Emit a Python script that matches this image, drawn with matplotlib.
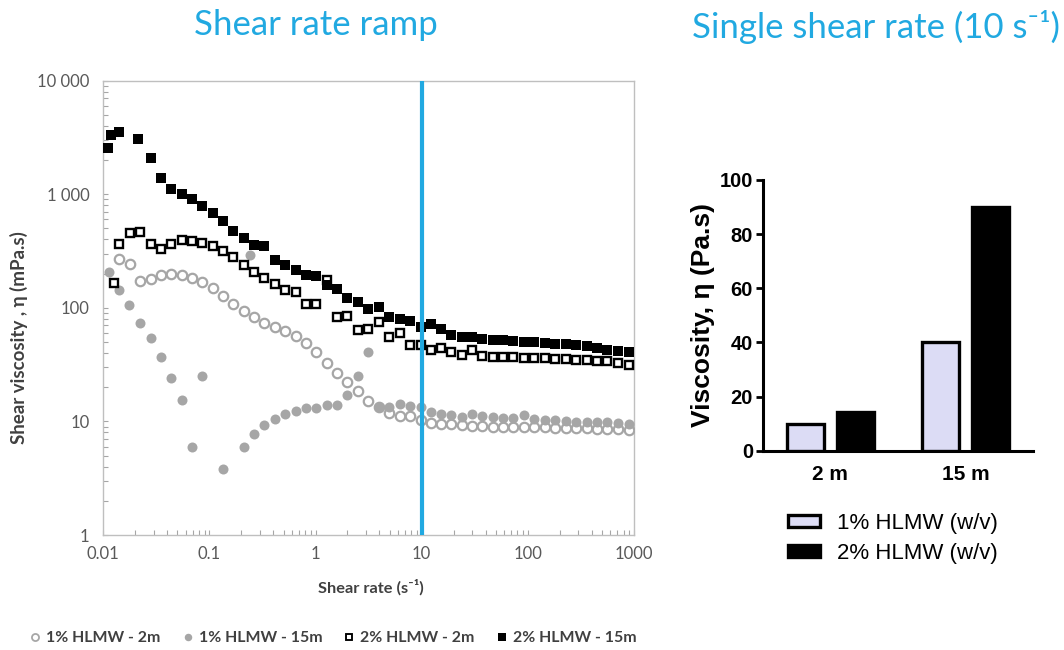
import numpy as np
import matplotlib
matplotlib.use("Agg")
from matplotlib import pyplot as plt
from matplotlib.ticker import FixedLocator, FixedFormatter, LogLocator, NullFormatter
from matplotlib.lines import Line2D
from matplotlib.patches import Patch

# shear rate (s-1) shared by the four series from ~0.03 upward
rate = [0.028, 0.035, 0.0435, 0.055, 0.069, 0.086, 0.107, 0.134, 0.168, 0.212,
        0.263, 0.327, 0.412, 0.521, 0.655, 0.813, 1.02, 1.29, 1.60, 2.00,
        2.50, 3.13, 3.96, 4.97, 6.22, 7.78, 9.77, 12.2, 15.2, 18.9,
        23.9, 29.7, 37.3, 46.8, 58.9, 73.2, 92.2, 115, 146, 182,
        228, 285, 360, 450, 562, 710, 896]

# 1% HLMW - 2m (open circles)
c2_rate0 = [0.0142, 0.0179, 0.0222]
c2_visc0 = [270, 245, 174]
c2_visc = [181, 194, 200, 196, 183, 168, 150, 128, 108, 94.5,
           83.1, 73.6, 67.6, 63.0, 56.1, 48.6, 40.5, 32.7, 26.8, 22.2,
           18.6, 15.1, 13.3, 11.8, 11.2, 11.2, 10.3, 9.66, 9.52, 9.46,
           9.33, 9.20, 9.14, 9.02, 9.02, 9.02, 9.02, 9.02, 8.91, 8.84,
           8.84, 8.73, 8.73, 8.61, 8.61, 8.61, 8.43]

# 1% HLMW - 15m (grey dots), nan = point not shown
c15_rate0 = [0.0114, 0.0142, 0.0176, 0.0222, 0.241]
c15_visc0 = [207, 143, 105, 73.6, 294]
c15_visc = [54.6, 36.9, 24.1, 15.5, 5.93, 25.2, np.nan, 3.80, np.nan, 6.01,
            7.78, 9.28, 10.6, 11.6, 12.4, 13.1, 13.1, 13.9, 13.9, 17.2,
            24.9, 40.5, 13.4, 13.5, 14.3, 13.6, 13.5, 12.2, 11.6, 11.4,
            11.0, 11.7, 11.2, 10.9, 10.8, 10.7, 11.4, 10.5, 10.3, 10.2,
            10.1, 9.98, 9.98, 9.86, 9.86, 9.66, 9.52]

# 2% HLMW - 2m (open squares)
s2_rate0 = [0.0126, 0.0141, 0.0177, 0.0222]
s2_visc0 = [166, 368, 456, 463]
s2_visc = [368, 333, 365, 395, 391, 376, 354, 319, 280, 239,
           206, 183, 162, 145, 139, 108, 108, 177, 83.6, 84.9,
           63.3, 65.2, 74.5, 55.4, 60.1, 46.9, 46.9, 42.8, 44.3, 40.5,
           38.7, 42.2, 37.4, 36.9, 36.9, 36.6, 36.2, 36.2, 35.9, 35.6,
           35.4, 34.9, 34.7, 34.2, 33.8, 32.7, 31.6]

# 2% HLMW - 15m (black squares)
s15_rate0 = [0.0111, 0.0118, 0.0141, 0.0211]
s15_visc0 = [2570, 3300, 3530, 3040]
s15_visc = [2070, 1387, 1109, 1016, 913, 796, 687, 579, 480, 413,
            359, 354, 266, 239, 214, 196, 190, 158, 147, 122,
            113, 98, 101, 83, 80, 76, 67.9, 72.1, 65.6, 58.1,
            55.4, 55.4, 53.5, 52.4, 51.7, 50.7, 50.1, 49.6, 49.0, 48.3,
            48.0, 47.1, 46.5, 44.3, 42.8, 42.0, 40.5]

series_names = ["1% HLMW - 2m", "1% HLMW - 15m", "2% HLMW - 2m", "2% HLMW - 15m"]

# single shear rate bar chart (Pa.s)
bar_groups = ["2 m", "15 m"]
visc_1pct = [10, 40]
visc_2pct = [14.4, 90]
bar_names = ["1% HLMW (w/v)", "2% HLMW (w/v)"]

y_ticks = [1, 10, 100, 1000, 10000]
y_ticklabels = ["1", "10", "100", "1 000", "10 000"]
x_ticks = [0.01, 0.1, 1, 10, 100, 1000]
x_ticklabels = ["0.01", "0.1", "1", "10", "100", "1000"]

blue = "#21a9e1"
grey = "#a6a6a6"
txt_grey = "#595959"
cal = ["Lato", "DejaVu Sans"]
arial = ["Liberation Sans", "DejaVu Sans"]

fig = plt.figure(figsize=(10.64, 6.5), dpi=100)

# ---- left: shear rate ramp ----
ax = fig.add_axes([0.0971, 0.1769, 0.4986, 0.6989])
styles = [
    dict(marker="o", ms=6.8, mfc="white", mec=grey, mew=1.6),
    dict(marker="o", ms=7.2, mfc=grey, mec=grey, mew=0),
    dict(marker="s", ms=6.3, mfc="white", mec="black", mew=1.7),
    dict(marker="s", ms=6.8, mfc="black", mec="black", mew=0),
]
data = [(c2_rate0, c2_visc0, c2_visc), (c15_rate0, c15_visc0, c15_visc),
        (s2_rate0, s2_visc0, s2_visc), (s15_rate0, s15_visc0, s15_visc)]
for i, (r0, v0, v) in enumerate(data):
    xs = list(r0) + rate
    ys = list(v0) + v
    ax.plot(xs, ys, ls="none", zorder=3 + i, **styles[i])

ax.axvline(10, color=blue, lw=3, zorder=10)
ax.set_xscale("log")
ax.set_yscale("log")
ax.set_xlim(0.01, 1000)
ax.set_ylim(1, 10000)
ax.yaxis.set_major_locator(FixedLocator(y_ticks))
ax.yaxis.set_major_formatter(FixedFormatter(y_ticklabels))
ax.xaxis.set_major_locator(FixedLocator(x_ticks))
ax.xaxis.set_major_formatter(FixedFormatter(x_ticklabels))
ax.xaxis.set_minor_locator(LogLocator(base=10, subs=np.arange(2, 10)))
ax.yaxis.set_minor_locator(LogLocator(base=10, subs=np.arange(2, 10)))
ax.xaxis.set_minor_formatter(NullFormatter())
ax.yaxis.set_minor_formatter(NullFormatter())
ax.tick_params(which="both", direction="in", color=grey, length=3.5, width=0.8,
               labelcolor=txt_grey, labelsize=12)
ax.tick_params(axis="y", which="both", pad=10)
ax.tick_params(axis="x", which="both", pad=8)
for lab in ax.get_xticklabels() + ax.get_yticklabels():
    lab.set_family(cal)
for sp in ax.spines.values():
    sp.set_color("#bfbfbf")
    sp.set_linewidth(1)

fig.text(19 / 1064, 1 - 338 / 650, "Shear viscosity , η (mPa.s)", rotation=90,
         ha="center", va="center", fontsize=13.5, fontweight="bold",
         color="#404040", family=cal)
fig.text(371 / 1064, 1 - 587 / 650, "Shear rate (s⁻¹)", ha="center", va="center",
         fontsize=11.8, fontweight="bold", color="#404040", family=cal)
fig.text(316 / 1064, 1 - 25 / 650, "Shear rate ramp", ha="center", va="center",
         fontsize=25, color=blue, family=cal)

leg_handles = [Line2D([], [], ls="none", marker=s["marker"], ms=s["ms"] * 0.75,
                      mfc=s["mfc"], mec=s["mec"], mew=s["mew"] * 0.8) for s in styles]
leg1 = fig.legend(leg_handles, series_names, ncol=4, loc="center",
                  bbox_to_anchor=(333 / 1064, 1 - 638 / 650), frameon=False,
                  prop=dict(family=cal, weight="bold", size=11.4),
                  handlelength=0.7, handletextpad=0.35, columnspacing=1.35)
for t in leg1.get_texts():
    t.set_color("#404040")

# ---- right: single shear rate ----
ax2 = fig.add_axes([0.7168, 0.3066, 0.2543, 0.4165])
x = np.arange(len(bar_groups))
ax2.bar(x - 0.185, visc_1pct, width=0.27, color="#dcdcf5", edgecolor="black",
        linewidth=2.4, zorder=3)
ax2.bar(x + 0.185, visc_2pct, width=0.27, color="black", edgecolor="black",
        linewidth=2.4, zorder=3)
ax2.set_xlim(-0.5, 1.5)
ax2.set_ylim(0, 100)
ax2.set_yticks([0, 20, 40, 60, 80, 100])
ax2.set_xticks(x)
ax2.set_xticklabels(bar_groups)
ax2.spines["top"].set_visible(False)
ax2.spines["right"].set_visible(False)
for s in ["left", "bottom"]:
    ax2.spines[s].set_linewidth(2.2)
ax2.tick_params(axis="y", direction="out", length=5, width=2, labelsize=14.5, pad=2)
ax2.tick_params(axis="x", length=0, labelsize=15, pad=10)
for lab in ax2.get_xticklabels() + ax2.get_yticklabels():
    lab.set_family(arial)
    lab.set_fontweight("bold")
ax2.set_ylabel("Viscosity, η (Pa.s)", fontsize=19, fontweight="bold",
               family=arial, labelpad=3)
fig.text(876 / 1064, 1 - 27 / 650, "Single shear rate (10 s⁻¹)", ha="center",
         va="center", fontsize=25, color=blue, family=cal)

bar_handles = [Patch(facecolor="#dcdcf5", edgecolor="black", linewidth=2.4),
               Patch(facecolor="black", edgecolor="black", linewidth=2.4)]
fig.legend(bar_handles, bar_names, loc="upper left",
           bbox_to_anchor=(768 / 1064, 1 - 493 / 650), frameon=False,
           prop=dict(family=arial, size=16), handlelength=1.45, handleheight=0.5,
           handletextpad=0.75, labelspacing=0.4)

fig.savefig("out.png", dpi=100)
